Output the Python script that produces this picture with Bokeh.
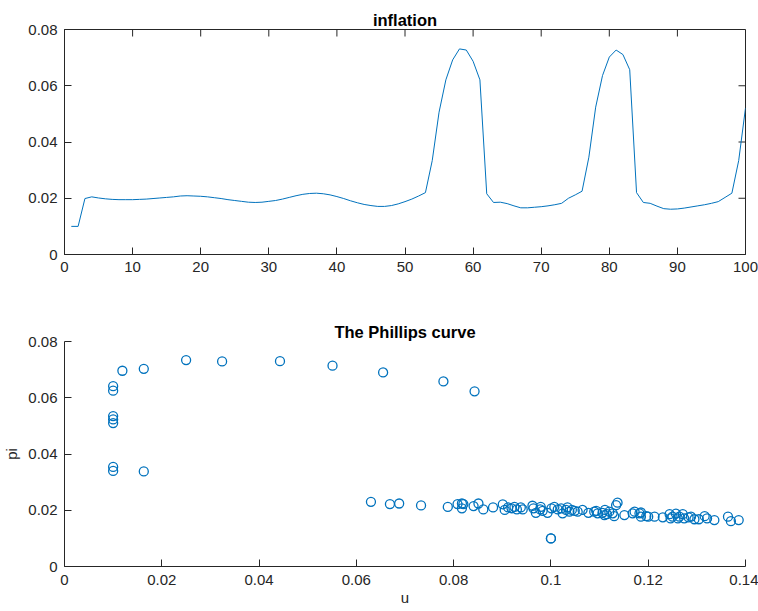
from bokeh.plotting import figure
from bokeh.layouts import column
from bokeh.models import Range1d, FixedTicker
from bokeh.embed import file_html
from bokeh.resources import INLINE

# ---------------- data ----------------
t = list(range(1, 101))
inflation = [
    0.0100, 0.0100, 0.0199, 0.0205, 0.0201, 0.0198, 0.0196, 0.0195, 0.0195, 0.0195,
    0.0196, 0.0197, 0.0199, 0.0201, 0.0203, 0.0205, 0.0208, 0.0209, 0.0208, 0.0207,
    0.0205, 0.0202, 0.0199, 0.0195, 0.0192, 0.0189, 0.0186, 0.0185, 0.0186, 0.0189,
    0.0192, 0.0197, 0.0203, 0.0209, 0.0214, 0.0217, 0.0218, 0.0216, 0.0212, 0.0206,
    0.0199, 0.0191, 0.0184, 0.0178, 0.0174, 0.0171, 0.0171, 0.0174, 0.0180, 0.0188,
    0.0197, 0.0208, 0.0220, 0.0334, 0.0506, 0.0621, 0.0692, 0.0731, 0.0727, 0.0687,
    0.0621, 0.0216, 0.0185, 0.0186, 0.0181, 0.0173, 0.0166, 0.0166, 0.0168, 0.0170,
    0.0173, 0.0177, 0.0182, 0.0200, 0.0212, 0.0225, 0.0346, 0.0524, 0.0636, 0.0702,
    0.0727, 0.0711, 0.0657, 0.0220, 0.0185, 0.0182, 0.0172, 0.0163, 0.0161, 0.0162,
    0.0165, 0.0169, 0.0173, 0.0177, 0.0182, 0.0188, 0.0203, 0.0218, 0.0334, 0.0521,
]

u_vals = [
    0.0100, 0.0100, 0.0100, 0.0100, 0.0100, 0.0100, 0.0100, 0.0119, 0.0163, 0.0163,
    0.0250, 0.0324, 0.0443, 0.0551, 0.0655, 0.0779, 0.0843,
    0.0630, 0.0669, 0.0688,
    0.0733, 0.0788, 0.0808, 0.0817, 0.0817, 0.0820, 0.0841, 0.0851, 0.0861, 0.0881,
    0.0901, 0.0905, 0.0912, 0.0919, 0.0925, 0.0930, 0.0938, 0.0942, 0.0962, 0.0964,
    0.0969, 0.0978, 0.0983, 0.0993, 0.1001, 0.1007, 0.1014, 0.1024, 0.1031, 0.1034,
    0.1038, 0.1043, 0.1049, 0.1055, 0.1065, 0.1077, 0.1093, 0.1096, 0.1106, 0.1111,
    0.1115, 0.1120, 0.1127, 0.1130, 0.1137, 0.1134, 0.1151, 0.1168, 0.1172, 0.1182,
    0.1185, 0.1196, 0.1200, 0.1213, 0.1230, 0.1244, 0.1246, 0.1250, 0.1257, 0.1264,
    0.1271, 0.1274, 0.1283, 0.1288, 0.1295, 0.1304, 0.1316, 0.1321, 0.1336, 0.1364,
    0.1370, 0.1386, 0.1000, 0.1000,
    0.0979, 0.1021, 0.1089, 0.1110, 0.1185, 0.1261,
]
pi_vals = [
    0.0641, 0.0625, 0.0535, 0.0523, 0.0510, 0.0354, 0.0340, 0.0696, 0.0703, 0.0338,
    0.0734, 0.0729, 0.0730, 0.0714, 0.0690, 0.0658, 0.0623,
    0.0230, 0.0222, 0.0224,
    0.0217, 0.0212, 0.0222, 0.0224, 0.0207, 0.0222, 0.0215, 0.0224, 0.0203, 0.0210,
    0.0221, 0.0201, 0.0210, 0.0207, 0.0212, 0.0203, 0.0210, 0.0203, 0.0216, 0.0207,
    0.0191, 0.0203, 0.0198, 0.0191, 0.0207, 0.0212, 0.0203, 0.0189, 0.0201, 0.0210,
    0.0195, 0.0201, 0.0198, 0.0195, 0.0201, 0.0191, 0.0198, 0.0189, 0.0191, 0.0201,
    0.0186, 0.0195, 0.0189, 0.0179, 0.0227, 0.0218, 0.0183, 0.0189, 0.0195, 0.0189,
    0.0177, 0.0179, 0.0177, 0.0177, 0.0175, 0.0186, 0.0171, 0.0177, 0.0188, 0.0177,
    0.0186, 0.0171, 0.0175, 0.0177, 0.0168, 0.0168, 0.0179, 0.0171, 0.0165, 0.0177,
    0.0161, 0.0165, 0.0100, 0.0100,
    0.0212, 0.0207, 0.0195, 0.0183, 0.0192, 0.0171,
]

top_x_ticks = [0, 10, 20, 30, 40, 50, 60, 70, 80, 90, 100]
top_x_labels = ["0", "10", "20", "30", "40", "50", "60", "70", "80", "90", "100"]
y_ticks = [0, 0.02, 0.04, 0.06, 0.08]
y_labels = ["0", "0.02", "0.04", "0.06", "0.08"]
bot_x_ticks = [0, 0.02, 0.04, 0.06, 0.08, 0.1, 0.12, 0.14]
bot_x_labels = ["0", "0.02", "0.04", "0.06", "0.08", "0.1", "0.12", "0.14"]

# ---------------- style ----------------
FONT = "Liberation Sans"
AX = "#262626"
BLUE = "#0072BD"
W = 758
BL, BR = 64, 13
FRAME_W = W - BL - BR
FRAME_H = 225
TICK = 7


def style_axis(ax, ticks, labels, standoff=7):
    ax.ticker = FixedTicker(ticks=ticks)
    ax.major_label_overrides = {tk: lb for tk, lb in zip(ticks, labels)}
    ax.axis_line_color = AX
    ax.axis_line_width = 1
    ax.major_tick_line_color = AX
    ax.major_tick_in = TICK
    ax.major_tick_out = 0
    ax.minor_tick_line_color = None
    ax.major_label_text_color = AX
    ax.major_label_text_font = FONT
    ax.major_label_text_font_size = "15px"
    ax.major_label_standoff = standoff
    ax.axis_label_text_font = FONT
    ax.axis_label_text_font_size = "15px"
    ax.axis_label_text_font_style = "normal"
    ax.axis_label_text_color = AX


def style_title(p):
    p.title.text_font = FONT
    p.title.text_font_size = "16.5px"
    p.title.text_font_style = "bold"
    p.title.text_color = "black"
    p.title.align = "center"
    p.title.standoff = 1


# ---------------- top: inflation ----------------
x1_range = Range1d(0, 100)
y1_range = Range1d(0, 0.08)
p1 = figure(width=W, height=298, title="inflation", output_backend="svg",
            toolbar_location=None, x_range=x1_range, y_range=y1_range)
p1.min_border_left = BL
p1.min_border_right = BR
p1.min_border_top = 29
p1.min_border_bottom = 44
p1.grid.visible = False
p1.outline_line_color = AX
p1.outline_line_width = 1
style_title(p1)
style_axis(p1.xaxis[0], top_x_ticks, top_x_labels)
style_axis(p1.yaxis[0], y_ticks, y_labels)

# mirrored inward ticks on the top and right edges of the box
tick_dy = TICK * (y1_range.end - y1_range.start) / FRAME_H
tick_dx = TICK * (x1_range.end - x1_range.start) / FRAME_W
p1.segment(x0=top_x_ticks, y0=[y1_range.end] * len(top_x_ticks),
           x1=top_x_ticks, y1=[y1_range.end - tick_dy] * len(top_x_ticks),
           line_color=AX, line_width=1)
p1.segment(x0=[x1_range.end] * len(y_ticks), y0=y_ticks,
           x1=[x1_range.end - tick_dx] * len(y_ticks), y1=y_ticks,
           line_color=AX, line_width=1)

p1.line(t, inflation, line_color=BLUE, line_width=1)

# ---------------- bottom: Phillips curve ----------------
p2 = figure(width=W, height=313, title="The Phillips curve", output_backend="svg",
            toolbar_location=None, x_range=Range1d(0, 0.14), y_range=Range1d(0, 0.08))
p2.min_border_left = BL
p2.min_border_right = BR
p2.min_border_top = 43
p2.min_border_bottom = 45
p2.grid.visible = False
p2.outline_line_color = None
style_title(p2)
style_axis(p2.xaxis[0], bot_x_ticks, bot_x_labels, standoff=8)
style_axis(p2.yaxis[0], y_ticks, y_labels)
p2.xaxis[0].axis_label = "u"
p2.xaxis[0].axis_label_standoff = 1
p2.yaxis[0].axis_label = "pi"
p2.yaxis[0].axis_label_standoff = 5
p2.scatter(u_vals, pi_vals, marker="circle", size=9, fill_color=None,
           line_color=BLUE, line_width=1.3)

layout = column(p1, p2)
open("out.html", "w").write(file_html(layout, INLINE))
